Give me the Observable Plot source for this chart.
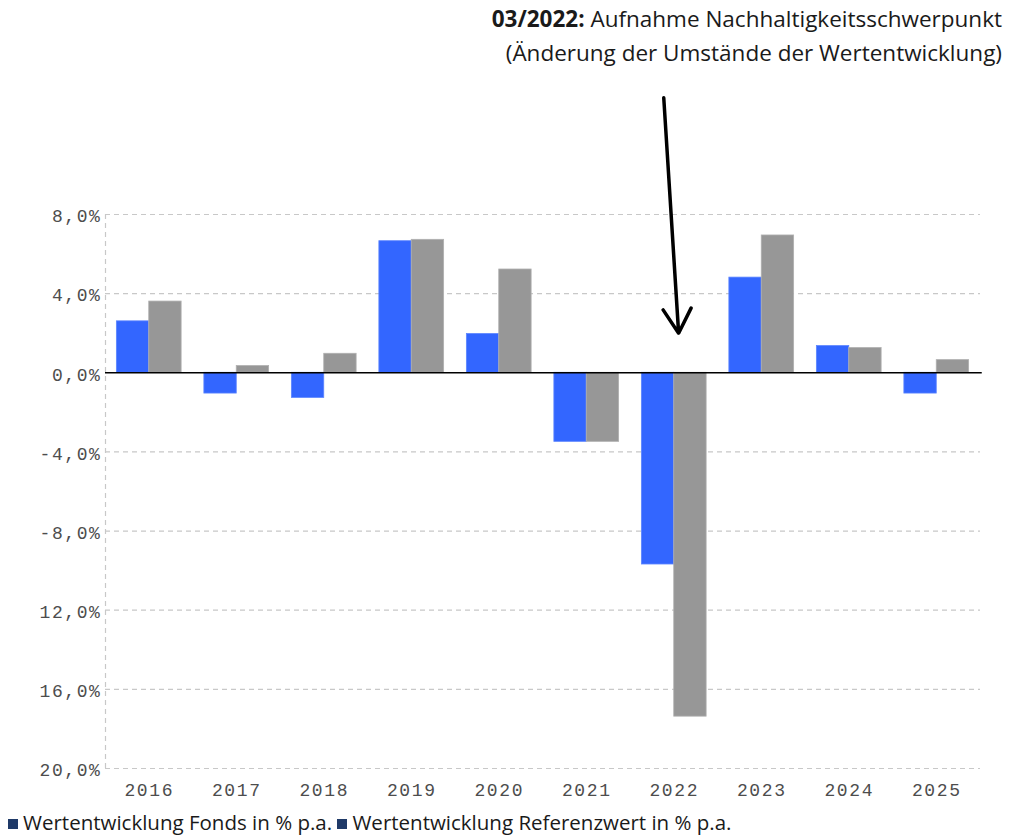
<!DOCTYPE html>
<html>
<head>
<meta charset="utf-8">
<script src="https://cdn.jsdelivr.net/npm/d3@7"></script>
<script src="https://cdn.jsdelivr.net/npm/@observablehq/plot@0.6"></script>
<style>
  html, body { margin: 0; padding: 0; background: #fff; }
  #wrap { position: relative; width: 1015px; height: 839px; overflow: hidden; }
  #title { position: absolute; right: 13px; top: 2px; text-align: right; font-family: "Open Sans", "Noto Sans", sans-serif; font-size: 22.5px; line-height: 34px; color: #1a1a1a; }
  #title b { font-weight: 700; }
  #chart { position: absolute; left: 0; top: 0; }
  #chart svg text { letter-spacing: 1.6px; }
  #legend { position: absolute; left: 8px; top: 811px; font-family: "Open Sans", "Noto Sans", sans-serif; font-size: 20.5px; line-height: 22px; color: #1a1a1a; white-space: nowrap; }
  .sw { display: inline-block; width: 10px; height: 10px; background: #1f3a68; margin-right: 5px; vertical-align: 1px; }
</style>
</head>
<body>
<div id="wrap">
  <div id="chart"></div>
  <div id="title"><b>03/2022:</b> Aufnahme Nachhaltigkeitsschwerpunkt<br>(Änderung der Umstände der Wertentwicklung)</div>
  <div id="legend"><span class="sw"></span>Wertentwicklung Fonds in % p.a. <span class="sw"></span>Wertentwicklung Referenzwert in % p.a.</div>
</div>
<script>
const years = [2016, 2017, 2018, 2019, 2020, 2021, 2022, 2023, 2024, 2025];
const fonds = [2.6, -1.05, -1.27, 6.65, 1.96, -3.49, -9.69, 4.81, 1.35, -1.05];
const referenz = [3.6, 0.34, 0.96, 6.72, 5.22, -3.49, -17.38, 6.94, 1.25, 0.64];
const yTicks = [8, 4, 0, -4, -8, -12, -16, -20];
const yTickLabels = ["8,0%", "4,0%", "0,0%", "-4,0%", "-8,0%", "12,0%", "16,0%", "20,0%"];
const arrowFrom = {year: 2021.88, value: 13.9};
const arrowTo = {year: 2022.05, value: 2.0};

const half = 0.37;
const rows = years.map((y, i) => ({year: y, fonds: fonds[i], referenz: referenz[i]}));
const ticks = yTicks.map((v, i) => ({v, label: yTickLabels[i]}));

const chart = Plot.plot({
  width: 1015,
  height: 805,
  marginTop: 214,
  marginBottom: 37,
  marginLeft: 105,
  marginRight: 35,
  x: {domain: [2015.5, 2025.5], axis: null},
  y: {domain: [-20, 8], axis: null},
  marks: [
    Plot.ruleY(yTicks.filter(v => v !== 0), {stroke: "#c8c8c8", strokeDasharray: "5,4", strokeWidth: 1.2}),
    Plot.ruleX([2015.5], {y1: -20, y2: 8, stroke: "#c8c8c8", strokeDasharray: "5,4", strokeWidth: 1.2}),
    Plot.rect(rows, {x1: d => d.year - half, x2: d => d.year, y1: 0, y2: "fonds", fill: "#3366ff", stroke: "#5c85ff", strokeWidth: 0.8}),
    Plot.rect(rows, {x1: d => d.year, x2: d => d.year + half, y1: 0, y2: "referenz", fill: "#979797", stroke: "#b0b0b0", strokeWidth: 0.8}),
    Plot.ruleY([0], {stroke: "#000", strokeWidth: 1.6, x1: 2015.5, x2: 2025.52}),
    Plot.text(ticks, {x: 2015.5, y: "v", text: "label", textAnchor: "end", dx: -4, dy: 2, fontFamily: "Liberation Mono", fontSize: 18, fill: "#4d4d4d"}),
    Plot.text(years, {x: d => d, y: -20, text: d => String(d), dy: 22, fontFamily: "Liberation Mono", fontSize: 18, fill: "#4d4d4d"}),
    Plot.arrow([{a: arrowFrom, b: arrowTo}], {x1: d => d.a.year, y1: d => d.a.value, x2: d => d.b.year, y2: d => d.b.value, stroke: "#000", strokeWidth: 3.5, headLength: 12, headAngle: 60})
  ]
});
chart.style.overflow = "visible";
document.getElementById("chart").appendChild(chart);
</script>
</body>
</html>
